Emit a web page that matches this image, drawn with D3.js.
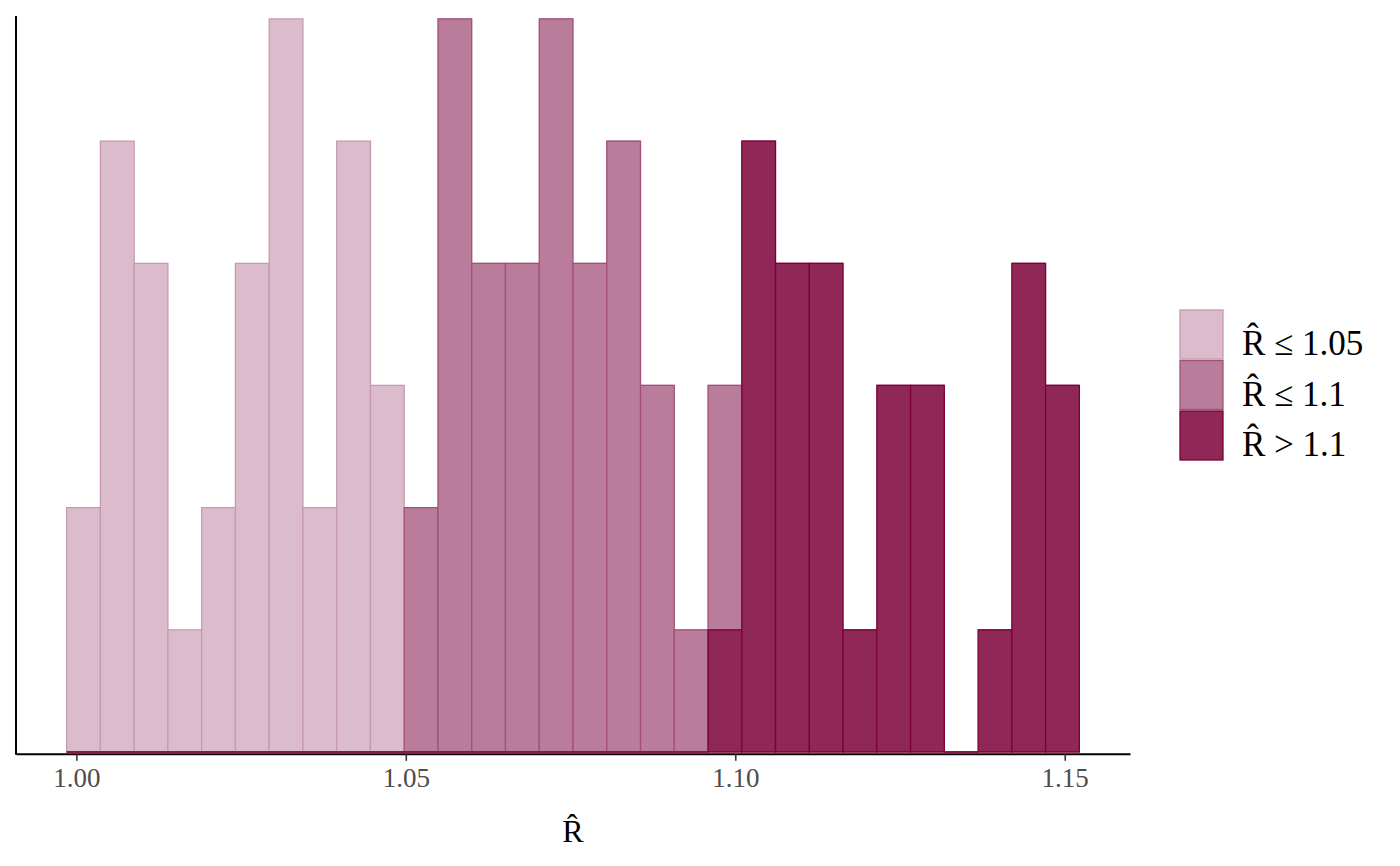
<!DOCTYPE html>
<html>
<head>
<meta charset="utf-8">
<script src="https://cdn.jsdelivr.net/npm/d3@7"></script>
<style>
  body { margin: 0; background: #fff; }
  svg { display: block; }
</style>
</head>
<body>
<div id="chart-container"></div>
<script>
// histogram bins (R-hat values), one count per bin and per group
const binStart = 0.99853;
const binWidth = 0.005123;
const lightCounts = [2, 5, 4, 1, 2, 4, 6, 2, 5, 3, 0, 0, 0, 0, 0, 0, 0, 0, 0, 0, 0, 0, 0, 0, 0, 0, 0, 0, 0, 0];
const midCounts   = [0, 0, 0, 0, 0, 0, 0, 0, 0, 0, 2, 6, 4, 4, 6, 4, 5, 3, 1, 2, 0, 0, 0, 0, 0, 0, 0, 0, 0, 0];
const darkCounts  = [0, 0, 0, 0, 0, 0, 0, 0, 0, 0, 0, 0, 0, 0, 0, 0, 0, 0, 0, 1, 5, 4, 4, 1, 3, 3, 0, 1, 4, 3];
const xTicks = [1.00, 1.05, 1.10, 1.15];
const groups = ["light", "mid", "dark"];
const rhat = "R\u0302";
const groupLabels = [rhat + " ≤ 1.05", rhat + " ≤ 1.1", rhat + " > 1.1"];
const fills = { light: "#dcbccc", mid: "#b97c9b", dark: "#8f2757" };
const strokes = { light: "#c799b0", mid: "#a25079", dark: "#7c0037" };

function init() {
    const width = 1400;
    const height = 866;
    const panel = { left: 16, right: 1130, top: 16, bottom: 752 };

    const svg = d3.select("#chart-container")
        .append("svg")
        .attr("width", width)
        .attr("height", height);

    // one row per bin
    const rows = lightCounts.map((c, i) => ({
        x0: binStart + i * binWidth,
        x1: binStart + (i + 1) * binWidth,
        light: c,
        mid: midCounts[i],
        dark: darkCounts[i]
    }));

    const lo = rows[0].x0;
    const hi = rows[rows.length - 1].x1;
    const pad = (hi - lo) * 0.05;

    const x = d3.scaleLinear()
        .domain([lo - pad, hi + pad])
        .range([panel.left, panel.right]);

    const maxTotal = d3.max(rows, d => d.light + d.mid + d.dark);
    const y = d3.scaleLinear()
        .domain([0, maxTotal * 1.004])
        .range([panel.bottom, panel.top]);

    // dark at the bottom of each stack, light on top
    const stack = d3.stack().keys(["dark", "mid", "light"]);
    const series = stack(rows);

    // draw light first, dark last (dark outlines end up on the baseline)
    const drawOrder = ["light", "mid", "dark"];
    drawOrder.forEach(key => {
        const s = series.find(d => d.key === key);
        svg.append("g")
            .selectAll("path")
            .data(s)
            .join("path")
            .attr("d", d => {
                const x0 = x(d.data.x0), x1 = x(d.data.x1);
                const y0 = y(d[0]), y1 = y(d[1]);
                return `M${x0},${y0}H${x1}V${y1}H${x0}Z`;
            })
            .attr("fill", fills[key])
            .attr("stroke", strokes[key])
            .attr("stroke-width", 1.3);
    });

    // x axis, sits just below the bars
    const axisY = panel.bottom + 1.8;
    const xAxis = svg.append("g")
        .attr("transform", `translate(0,${axisY})`)
        .call(d3.axisBottom(x)
            .tickValues(xTicks)
            .tickFormat(d3.format(".2f"))
            .tickSize(7)
            .tickSizeOuter(0));
    xAxis.select(".domain").attr("stroke", "#000").attr("stroke-width", 2);
    xAxis.selectAll(".tick line").attr("stroke", "#333").attr("stroke-width", 1.6);
    xAxis.selectAll(".tick text")
        .attr("y", 33)
        .attr("dy", null)
        .attr("fill", "#4d4d4d")
        .attr("font-family", "Liberation Serif")
        .attr("font-size", 27);

    // y axis: line only
    svg.append("line")
        .attr("x1", panel.left)
        .attr("x2", panel.left)
        .attr("y1", panel.top)
        .attr("y2", axisY + 1)
        .attr("stroke", "#000")
        .attr("stroke-width", 2);

    // x axis title
    svg.append("text")
        .attr("x", (panel.left + panel.right) / 2)
        .attr("y", 842)
        .attr("text-anchor", "middle")
        .attr("font-family", "Liberation Serif")
        .attr("font-size", 32)
        .attr("fill", "#000")
        .text(rhat);

    // legend
    const legend = svg.append("g")
        .attr("transform", "translate(1180,310)")
        .attr("font-family", "Liberation Serif");
    const rowH = 50.5;
    groups.forEach((g, i) => {
        const item = legend.append("g").attr("transform", `translate(0,${i * rowH})`);
        item.append("rect")
            .attr("x", 0)
            .attr("y", 0)
            .attr("width", 43)
            .attr("height", 49)
            .attr("fill", fills[g])
            .attr("stroke", strokes[g])
            .attr("stroke-width", 1.3);
        item.append("text")
            .attr("x", 62)
            .attr("y", 45)
            .attr("font-size", 35)
            .attr("fill", "#000")
            .text(groupLabels[i]);
    });
}

window.onload = init;
</script>
</body>
</html>
